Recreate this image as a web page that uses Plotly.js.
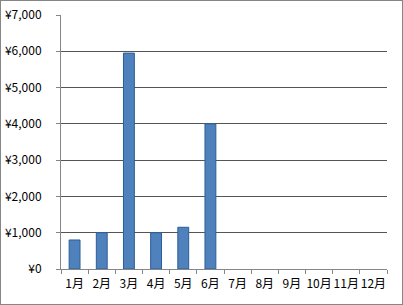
<!DOCTYPE html>
<html><head><meta charset="utf-8">
<script src="https://cdn.plot.ly/plotly-3.0.1.min.js"></script>
<style>html,body{margin:0;padding:0;background:#fff;}#c{width:403px;height:305px;}
#frame{position:absolute;left:0;top:0;width:401px;height:303px;border:1px solid #868686;pointer-events:none;}</style>
</head><body><div id="c"></div><div id="frame"></div>
<script>
const months = ['1月','2月','3月','4月','5月','6月','7月','8月','9月','10月','11月','12月'];
const values = [800, 1000, 5950, 1000, 1150, 4000, null, null, null, null, null, null];
const yTicks = [0,1000,2000,3000,4000,5000,6000,7000];
const yTickText = ['¥0','¥1,000','¥2,000','¥3,000','¥4,000','¥5,000','¥6,000','¥7,000'];
const font = {family:'"Noto Sans CJK JP", "DejaVu Sans", sans-serif', size:12, color:'#000'};
Plotly.newPlot('c', [{
  type:'bar', x:months, y:values,
  marker:{color:'#4f81bd', line:{color:'#2c5d98', width:1}},
  hoverinfo:'skip'
}], {
  width:403, height:305,
  margin:{l:61, r:16, t:15, b:36},
  paper_bgcolor:'rgba(0,0,0,0)', plot_bgcolor:'#fff',
  bargap:0.6, showlegend:false, font:font,
  xaxis:{type:'category', showline:true, linecolor:'#868686', linewidth:1,
    ticks:'outside', ticklen:4, tickcolor:'#868686', tickson:'boundaries',
    tickangle:0, ticklabelstandoff:4,
    showgrid:false, tickfont:font, fixedrange:true},
  yaxis:{range:[0,7000], tickvals:yTicks, ticktext:yTickText, showline:true,
    linecolor:'#868686', linewidth:1, ticks:'outside', ticklen:4, tickcolor:'#868686',
    ticklabelstandoff:12,
    showgrid:true, gridcolor:'#555', gridwidth:1, zeroline:false, tickfont:font, fixedrange:true}
}, {displayModeBar:false, staticPlot:true});
</script></body></html>
